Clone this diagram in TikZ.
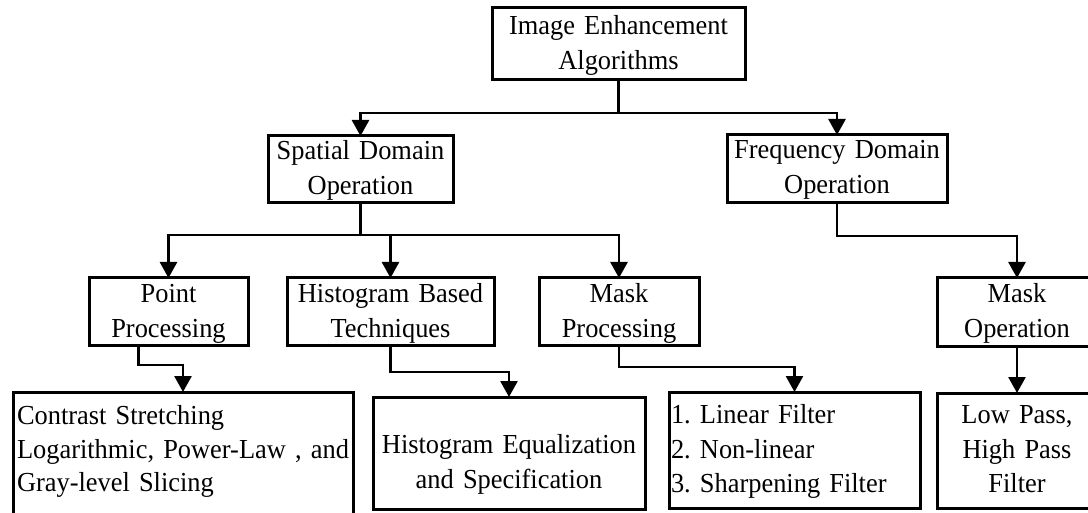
\documentclass[tikz,border=0pt]{standalone}
\usepackage{fontspec}
\setmainfont{Liberation Serif}[FakeStretch=0.96]
\usetikzlibrary{arrows.meta}
\tikzset{
  box/.style={draw, line width=3pt, inner ysep=0pt, inner xsep=2pt, outer sep=0pt,
    align=center, font=\fontsize{27.5pt}{35pt}\selectfont\frenchspacing},
  leftbox/.style={box, align=left},
  conn/.style={line width=2.7pt, -{Triangle[width=17pt,length=16pt]}}
}
\begin{document}
\begin{tikzpicture}[x=1pt,y=-1pt]
\useasboundingbox (0,0) rectangle (1088,513);
\fill[white] (0,0) rectangle (1088,513);
\clip (0,0) rectangle (1088,513);

% level 0
\node[box, anchor=north west, text width=249pt, text height=27pt, text depth=45pt]
  (top) at (492,8) {Image Enhancement\\Algorithms};

% level 1
\node[box, anchor=north west, text width=181pt, text height=24pt, text depth=43pt]
  (spatial) at (268,136) {Spatial Domain\\Operation};
\node[box, anchor=north west, text width=216pt, text height=24pt, text depth=44pt]
  (freq) at (727,135) {Frequency Domain\\Operation};

% level 2
\node[box, anchor=north west, text width=155pt, text height=25pt, text depth=43pt]
  (point) at (89,278) {Point\\Processing};
\node[box, anchor=north west, text width=203pt, text height=25pt, text depth=43pt]
  (hist) at (287,278) {Histogram Based\\Techniques};
\node[box, anchor=north west, text width=156pt, text height=25pt, text depth=43pt]
  (maskp) at (539,278) {Mask\\Processing};
\node[box, anchor=north west, text width=156pt, text height=25pt, text depth=44pt]
  (maskop) at (937,278) {Mask\\Operation};

% level 3
\node[leftbox, inner xsep=4pt, anchor=north west, text width=332pt, text height=32pt, text depth=136pt,
  font=\fontsize{27.5pt}{34pt}\selectfont\frenchspacing]
  (contrast) at (13,392) {\mbox{Contrast Stretching}\\\mbox{Logarithmic, Power-Law , and}\\\mbox{Gray-level Slicing}};
\node[box, anchor=north west, text width=268pt, text height=56pt, text depth=56pt]
  (histeq) at (373,397) {Histogram Equalization\\and Specification};
\node[leftbox, inner xsep=2pt, anchor=north west, text width=247pt, text height=31pt, text depth=85pt]
  (filter) at (669,392) {\mbox{1. Linear Filter}\\\mbox{2. Non-linear}\\\mbox{3. Sharpening Filter}};
\node[box, anchor=north west, text width=156pt, text height=30pt, text depth=85pt]
  (lowpass) at (937,393) {Low Pass,\\High Pass\\Filter};

% connectors
\draw[conn] (top.south) -- ++(0,33) -| (spatial.north);
\draw[conn] (top.south) -- ++(0,33) -| (freq.north);

\draw[conn] (spatial.south) -- ++(0,32) -| (point.north);
\draw[conn] (spatial.south) -- ++(0,32) -| (hist.north);
\draw[conn] (spatial.south) -- ++(0,32) -| (maskp.north);

\draw[conn] (freq.south) -- ++(0,33) -| (maskop.north);

\draw[conn] ([xshift=-30pt]point.south) -- ++(0,19) -| (contrast.north);
\draw[conn] (hist.south) -- ++(0,26) -| (histeq.north);
\draw[conn] (maskp.south) -- ++(0,21) -| (filter.north);
\draw[conn] (maskop.south) -- (lowpass.north);
\end{tikzpicture}
\end{document}
